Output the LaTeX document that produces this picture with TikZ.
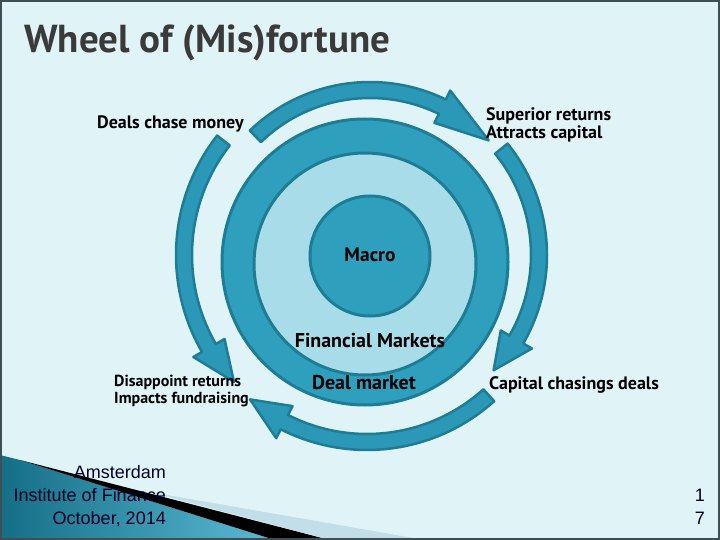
\documentclass[tikz,border=0pt]{standalone}
\usepackage{fontspec}
\setmainfont{PT Sans}
\newfontfamily\footfont{Liberation Sans}
\usetikzlibrary{positioning}
\definecolor{slideBg}{RGB}{224,244,248}
\definecolor{frameColor}{RGB}{62,78,84}
\definecolor{ringColor}{RGB}{46,160,190}
\definecolor{coreLight}{RGB}{168,220,232}
\definecolor{edgeColor}{RGB}{30,125,148}
\definecolor{arrowColor}{RGB}{42,152,182}
\definecolor{titleColor}{RGB}{58,58,58}
\definecolor{swooshDark}{RGB}{20,110,134}
\definecolor{swooshLight}{RGB}{92,186,212}
\definecolor{bandColor}{RGB}{194,223,233}

\newcommand{\wheelarrow}[6]{%
  \filldraw[wheel arrow]
    plot[domain=#4:#5, samples=40] ({#1+(#3+8)*cos(\x)}, {#2+(#3+8)*sin(\x)})
    -- ({#1+(#3+18)*cos(#5)}, {#2+(#3+18)*sin(#5)})
    -- ({#1+#3*cos(#6)}, {#2+#3*sin(#6)})
    -- ({#1+(#3-18)*cos(#5)}, {#2+(#3-18)*sin(#5)})
    -- plot[domain=#5:#4, samples=40] ({#1+(#3-8)*cos(\x)}, {#2+(#3-8)*sin(\x)})
    -- cycle;}

\begin{document}
\begin{tikzpicture}[
  x=1pt, y=-1pt,
  wheel arrow/.style={fill=arrowColor, draw=edgeColor, line width=2.5pt, line join=round},
  disk/.style={draw=edgeColor, line width=3pt},
  label/.style={text=black, inner sep=0pt},
  foot/.style={font=\footfont\fontsize{18}{23}\selectfont, text=black!85!blue, inner sep=0pt, align=right}
]
\useasboundingbox (0,0) rectangle (720,540);
\fill[slideBg] (0,0) rectangle (720,540);

\shade[left color=swooshDark, right color=swooshLight] (0,455) -- (20,460) -- (275,540) -- (0,540) -- cycle;
\fill[black] (20,460) -- (330,540) -- (275,540) -- cycle;
\fill[bandColor] (150,492) -- (425,540) -- (330,540) -- cycle;
\draw[frameColor, line width=2pt] (1,1) rectangle (719,539);

\filldraw[disk, fill=ringColor] (365,262) circle[radius=143pt];
\filldraw[disk, fill=coreLight] (365,264) circle[radius=111pt];
\filldraw[disk, fill=ringColor] (370,256) circle[radius=60pt];

\wheelarrow{370}{255}{165}{226}{296}{316}
\wheelarrow{370}{255}{169}{-39}{30}{43}
\wheelarrow{367}{260}{182}{48}{117}{130}
\wheelarrow{370}{255}{186}{218}{150}{137}

\node[anchor=west, inner sep=0pt, text=titleColor, font=\fontsize{39}{46}\selectfont\bfseries] (title) at (24,43) {Wheel of (Mis)fortune};

\node[label, anchor=west, font=\fontsize{18}{21}\selectfont\bfseries] (deals) at (97,124) {Deals chase money};
\node[label, anchor=west, align=left, font=\fontsize{18}{18}\selectfont\bfseries] (superior) at (486,125) {Superior returns\\Attracts capital};
\node[label, font=\fontsize{19.5}{22}\selectfont\bfseries] (macro) at (370,255) {Macro};
\node[label, font=\fontsize{20}{23}\selectfont\bfseries] (finmkt) at (370,341) {Financial Markets};
\node[label, font=\fontsize{20}{23}\selectfont\bfseries] (dealmkt) at (364,383) {Deal market};
\node[label, anchor=west, font=\fontsize{18}{21}\selectfont\bfseries] (capital) at (489,385) {Capital chasings deals};
\node[label, anchor=west, align=left, font=\fontsize{16}{17}\selectfont\bfseries] (disappoint) at (114,391) {Disappoint returns\\Impacts fundraising};

\node[foot, anchor=east] (footer) at (166,496) {Amsterdam\\Institute of Finance\\October, 2014};
\node[foot, anchor=east] (pagenum) at (705,507) {1\\7};
\end{tikzpicture}
\end{document}
